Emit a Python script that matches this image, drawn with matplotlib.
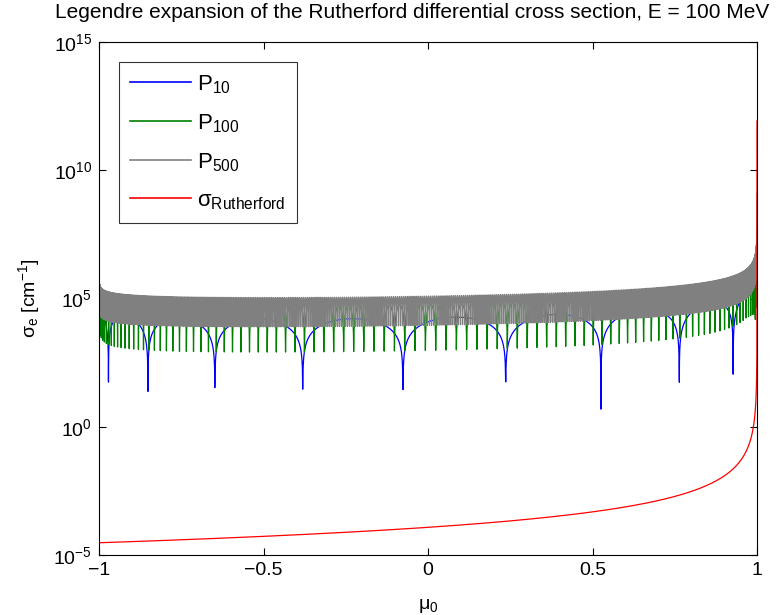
import numpy as np
import matplotlib
matplotlib.use("Agg")
import matplotlib.pyplot as plt

# ---- values ----
n_terms = [10, 100, 500]                    # number of Legendre terms kept (l = 0 .. n-1)
series_labels = [r"$\mathrm{P}_{10}$", r"$\mathrm{P}_{100}$", r"$\mathrm{P}_{500}$",
                 r"$\mathrm{\sigma}_{\mathrm{Rutherford}}$"]
sigma_at_backward = 3.0e-5                  # red curve at mu0 = -1 (read)
expansion_scale = 1.0e4                     # sigma_l / ((2l+1)/2), from P10 peaks ~1.8e4 (read)
n_angles = 5501                             # samples in scattering angle
xticks = [-1, -0.5, 0, 0.5, 1]
xtick_labels = ["\u22121", "\u22120.5", "0", "0.5", "1"]
yticks = [1e-5, 1e0, 1e5, 1e10, 1e15]
ytick_labels = [r"$10^{-5}$", r"$10^{0}$", r"$10^{5}$", r"$10^{10}$", r"$10^{15}$"]
title = "Legendre expansion of the Rutherford differential cross section, E = 100 MeV"

# ---- screened Rutherford cross section sigma = C/(z - mu)^2 ----
C = 4.0 * sigma_at_backward
zm1 = C / expansion_scale
z = 1.0 + zm1
theta = np.linspace(0.0, np.pi, n_angles)
mu = np.cos(theta)
sigma_ruth = C / (z - mu) ** 2

# Legendre coefficients: 1/(z-mu)^2 = sum_l (2l+1) (-Q_l'(z)) P_l(mu)
Lmax = max(n_terms) - 1
Q = np.zeros(Lmax + 2)
Q[0] = 0.5 * np.log((z + 1.0) / zm1)
Q[1] = z * Q[0] - 1.0
for l in range(1, Lmax + 1):
    Q[l + 1] = ((2 * l + 1) * z * Q[l] - l * Q[l - 1]) / (l + 1)
z2m1 = zm1 * (z + 1.0)
coef = np.zeros(Lmax + 1)
coef[0] = C / z2m1
for l in range(1, Lmax + 1):
    coef[l] = C * (2 * l + 1) * l * (Q[l - 1] - z * Q[l]) / z2m1

partial = {}
p_prev = np.ones_like(mu)
p_cur = mu.copy()
s = coef[0] * p_prev
for l in range(1, Lmax + 1):
    s = s + coef[l] * p_cur
    if l + 1 in n_terms:
        partial[l + 1] = s.copy()
    p_next = ((2 * l + 1) * mu * p_cur - l * p_prev) / (l + 1)
    p_prev, p_cur = p_cur, p_next

# ---- figure ----
plt.rcParams["font.family"] = ["Liberation Sans", "DejaVu Sans"]
plt.rcParams["mathtext.fontset"] = "custom"
plt.rcParams["mathtext.rm"] = "Liberation Sans"
plt.rcParams["mathtext.it"] = "Liberation Sans:italic"
plt.rcParams["mathtext.sf"] = "Liberation Sans"

fig = plt.figure(figsize=(7.76, 6.15), dpi=100)
ax = fig.add_axes([99 / 776, 60 / 615, 658 / 776, 513 / 615])

colors = ["#0000ff", "#008000", "#808080", "#ff0000"]
for n, col, lab in zip(n_terms, colors[:3], series_labels[:3]):
    ax.plot(mu, np.abs(partial[n]), color=col, lw=0.9, label=lab)
ax.plot(mu, sigma_ruth, color=colors[3], lw=0.9, label=series_labels[3])

ax.set_yscale("log")
ax.set_xlim(-1, 1)
ax.set_ylim(1e-5, 1e15)
ax.set_xticks(xticks)
ax.set_xticklabels(xtick_labels)
ax.set_yticks(yticks)
ax.set_yticklabels(ytick_labels)
ax.yaxis.set_minor_locator(matplotlib.ticker.NullLocator())
ax.tick_params(direction="in", top=True, right=True, length=5, width=0.8, labelsize=14, pad=5)
for sp in ax.spines.values():
    sp.set_linewidth(0.8)

ax.set_xlabel(r"$\mathrm{\mu}_0$", fontsize=14, labelpad=13)
ax.set_ylabel(r"$\mathrm{\sigma}_\mathrm{e}$ [cm$^{-1}$]", fontsize=14, labelpad=8)
fig.text(412 / 776, 1 - 13 / 615, title, ha="center", va="center", fontsize=15)

leg = ax.legend(loc="upper left", bbox_to_anchor=(20 / 658, 1 - 20 / 513), fontsize=16,
                frameon=True, fancybox=False, edgecolor="black", handlelength=2.75,
                labelspacing=0.74, borderpad=0.5, handletextpad=0.27, borderaxespad=0)
leg.get_frame().set_linewidth(0.8)
for h in leg.get_lines():
    h.set_linewidth(1.2)

fig.savefig("out.png", dpi=100)
